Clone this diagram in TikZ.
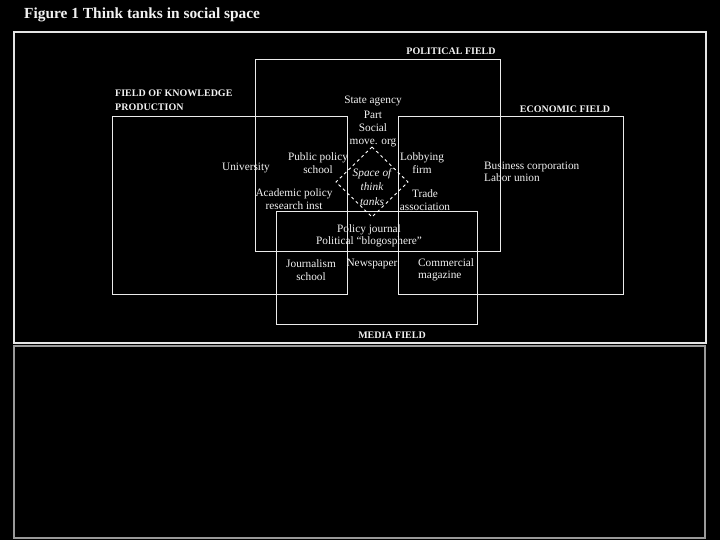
\documentclass[tikz,border=0pt]{standalone}
\usepackage{fontspec}
\setmainfont{Liberation Serif}
\begin{document}
\begin{tikzpicture}[x=1pt,y=-1pt,
  field/.style={draw=white!92!black,line width=1pt},
  lbl/.style={text=white!95!black,font=\fontsize{11.3}{12.5}\selectfont,inner sep=0pt,align=center},
  head/.style={text=white!95!black,font=\fontsize{10}{14}\selectfont\bfseries,inner sep=0pt},
  tank/.style={draw=white,dashed,line width=0.9pt}]
\fill[black] (0,0) rectangle (720,540);
\useasboundingbox (0,0) rectangle (720,540);
% title
\node[anchor=west,text=white!95!black,font=\fontsize{15.4}{17}\selectfont\bfseries,inner sep=0pt] (title) at (24,15) {Figure 1 Think tanks in social space};
% frames
\draw[draw=white!90!black,line width=1.2pt] (14,32) rectangle (706,343);
\draw[draw=white!60!black,line width=1.8pt] (14,346) rectangle (705,538);
% fields
\draw[field] (255,60) rectangle (500,251);
\draw[field] (112,117) rectangle (347,294);
\draw[field] (398,117) rectangle (623,294);
\draw[field] (276,212) rectangle (477,324);
% space of think tanks
\draw[tank] (372,147) coordinate (dt) -- (408,182) coordinate (dr) -- (372,217) coordinate (db) -- (336,182) coordinate (dl) -- cycle;
% headings
\node[head] (pol) at (451,51) {POLITICAL FIELD};
\node[head,anchor=north west,align=left] (know) at (115,90) {FIELD OF KNOWLEDGE\\PRODUCTION};
\node[head] (eco) at (565,109) {ECONOMIC FIELD};
\node[head] (med) at (392,335) {MEDIA FIELD};
% labels
\node[lbl] (state) at (373,101) {State agency};
\node[lbl] (part) at (373,115) {Part};
\node[lbl,font=\fontsize{11.3}{13.5}\selectfont] (soc) at (373,135.5) {Social\\move. org};
\node[lbl] (pps) at (318,163) {Public policy\\school};
\node[lbl] (uni) at (246,168) {University};
\node[lbl] (apr) at (294,199) {Academic policy\\research inst};
\node[lbl] (lob) at (422,163) {Lobbying\\firm};
\node[lbl,font=\fontsize{11.3}{14.5}\selectfont\itshape] (space) at (372,187) {Space of\\think\\tanks};
\node[lbl] (trade) at (425,200) {Trade\\association};
\node[lbl,align=left,anchor=west] (bus) at (484,172) {Business corporation\\Labor union};
\node[lbl] (pj) at (369,236) {Policy journal\\Political ``blogosphere''};
\node[lbl] (js) at (311,270) {Journalism\\school};
\node[lbl] (news) at (372,264) {Newspaper};
\node[lbl,align=left,anchor=west] (cm) at (418,270) {Commercial\\magazine};
\end{tikzpicture}
\end{document}
